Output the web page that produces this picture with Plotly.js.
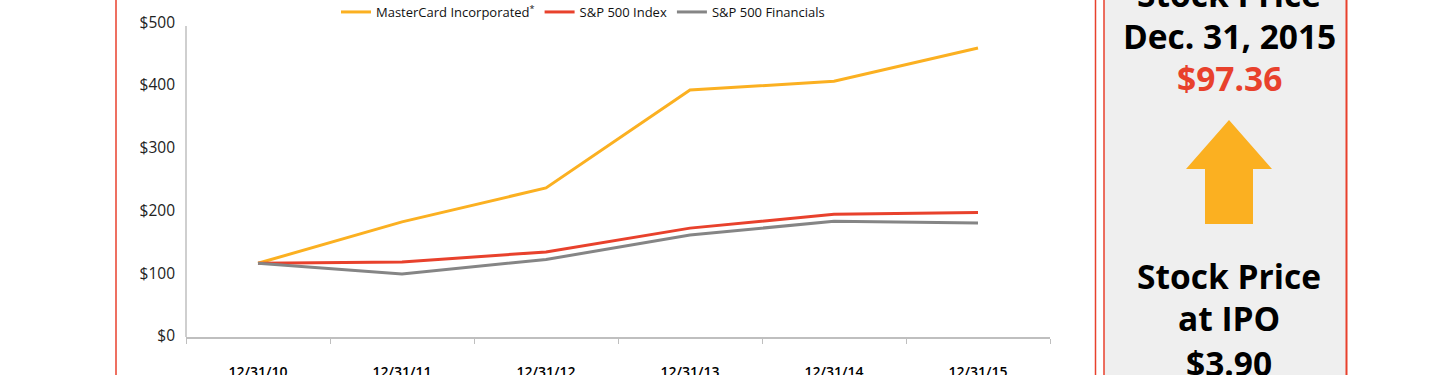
<!DOCTYPE html>
<html>
<head>
<meta charset="utf-8">
<script src="https://cdn.plot.ly/plotly-3.0.1.min.js"></script>
<style>html,body{margin:0;padding:0;background:#fff;}#chart{width:1440px;height:375px;}</style>
</head>
<body>
<div id="chart"></div>
<script>
// ---- data ----
var dates = ["12/31/10", "12/31/11", "12/31/12", "12/31/13", "12/31/14", "12/31/15"];
var mastercard = [100, 166, 220, 376, 390, 443];
var sp500 = [100, 102, 118, 156, 178, 181];
var spFinancials = [100, 83, 106, 145, 167, 164];
var seriesNames = ["MasterCard Incorporated<sup>*</sup>", "S&P 500 Index", "S&P 500 Financials"];
var yTickVals = [0, 100, 200, 300, 400, 500];
var yTickText = ["$0", "$100", "$200", "$300", "$400", "$500"];
var panelLines = ["Stock Price", "Dec. 31, 2015", "$97.36", "Stock Price", "at IPO", "$3.90"];

// ---- layout helpers (pixel -> paper) ----
var L = 186, R = 1050, T = 11, B = 337;
function px(x) { return (x - L) / (R - L); }
function py(y) { return (B - y) / (B - T); }

var ORANGE = "#FBB021", RED = "#E8412C", GRAY = "#858585";
var FONT = "Open Sans, Noto Sans, sans-serif";

var traces = [
  {x: dates, y: mastercard, name: seriesNames[0], type: "scatter", mode: "lines", line: {color: ORANGE, width: 3}},
  {x: dates, y: sp500, name: seriesNames[1], type: "scatter", mode: "lines", line: {color: RED, width: 3}},
  {x: dates, y: spFinancials, name: seriesNames[2], type: "scatter", mode: "lines", line: {color: GRAY, width: 3}}
];

function ann(text, xPix, yPix, color, size) {
  return {text: text, xref: "paper", yref: "paper", x: px(xPix), y: py(yPix),
    xanchor: "center", yanchor: "middle", showarrow: false, height: 38,
    font: {family: FONT, size: size, color: color, weight: "bold"}};
}

var cx = 1229;
var arrowPath = "M " + px(cx) + " " + py(120) +
  " L " + px(1272) + " " + py(169) +
  " L " + px(1253) + " " + py(169) +
  " L " + px(1253) + " " + py(224) +
  " L " + px(1205) + " " + py(224) +
  " L " + px(1205) + " " + py(169) +
  " L " + px(1186) + " " + py(169) + " Z";

var layout = {
  width: 1440, height: 375,
  margin: {l: L, r: 1440 - R, t: T, b: 375 - B, pad: 0, autoexpand: false},
  paper_bgcolor: "#ffffff", plot_bgcolor: "#ffffff",
  font: {family: FONT, color: "#222"},
  showlegend: true,
  legend: {orientation: "h", x: px(336), y: py(-3), xanchor: "left", yanchor: "top",
    font: {family: FONT, size: 13, color: "#111"}, bgcolor: "rgba(0,0,0,0)", borderwidth: 0},
  xaxis: {type: "category", range: [-0.5, 5.5], showgrid: false, zeroline: false, automargin: false,
    showline: true, linecolor: "#bfbfbf", linewidth: 1.5,
    ticks: "outside", tickson: "boundaries", ticklen: 5, tickcolor: "#bfbfbf",
    ticklabelstandoff: 22,
    tickfont: {family: FONT, size: 14, color: "#000", weight: 600}},
  yaxis: {range: [-17.5, 502], showgrid: false, zeroline: false, showline: false, automargin: false,
    tickvals: yTickVals, ticktext: yTickText, ticks: "",
    ticklabelshift: 10, ticklabelstandoff: 10,
    tickfont: {family: FONT, size: 15.5, color: "#222"}},
  shapes: [
    {type: "line", xref: "paper", yref: "y", x0: 0, x1: 0, y0: -17.5, y1: 478, line: {color: "#bfbfbf", width: 1.5}},
    {type: "line", xref: "paper", yref: "paper", x0: px(116), x1: px(116), y0: py(-2), y1: py(377), line: {color: RED, width: 1.5}},
    {type: "rect", xref: "paper", yref: "paper", x0: px(1104), x1: px(1347), y0: py(-3), y1: py(378), fillcolor: "#efefef", line: {width: 0}, layer: "below"},
    {type: "line", xref: "paper", yref: "paper", x0: px(1095.5), x1: px(1095.5), y0: py(-2), y1: py(377), line: {color: RED, width: 1.5}},
    {type: "line", xref: "paper", yref: "paper", x0: px(1104), x1: px(1104), y0: py(-2), y1: py(377), line: {color: RED, width: 1.5}},
    {type: "line", xref: "paper", yref: "paper", x0: px(1346.5), x1: px(1346.5), y0: py(-2), y1: py(377), line: {color: RED, width: 2}},
    {type: "path", xref: "paper", yref: "paper", path: arrowPath, fillcolor: ORANGE, line: {width: 0}}
  ],
  annotations: [
    ann(panelLines[0], cx, -6, "#000", 33.5),
    ann(panelLines[1], cx, 36, "#000", 33.5),
    ann(panelLines[2], cx, 78, RED, 33.5),
    ann(panelLines[3], cx, 276, "#000", 33.5),
    ann(panelLines[4], cx, 318, "#000", 33.5),
    ann(panelLines[5], cx, 363, "#000", 33.5)
  ]
};

Plotly.newPlot("chart", traces, layout, {displayModeBar: false, staticPlot: true});
</script>
</body>
</html>
